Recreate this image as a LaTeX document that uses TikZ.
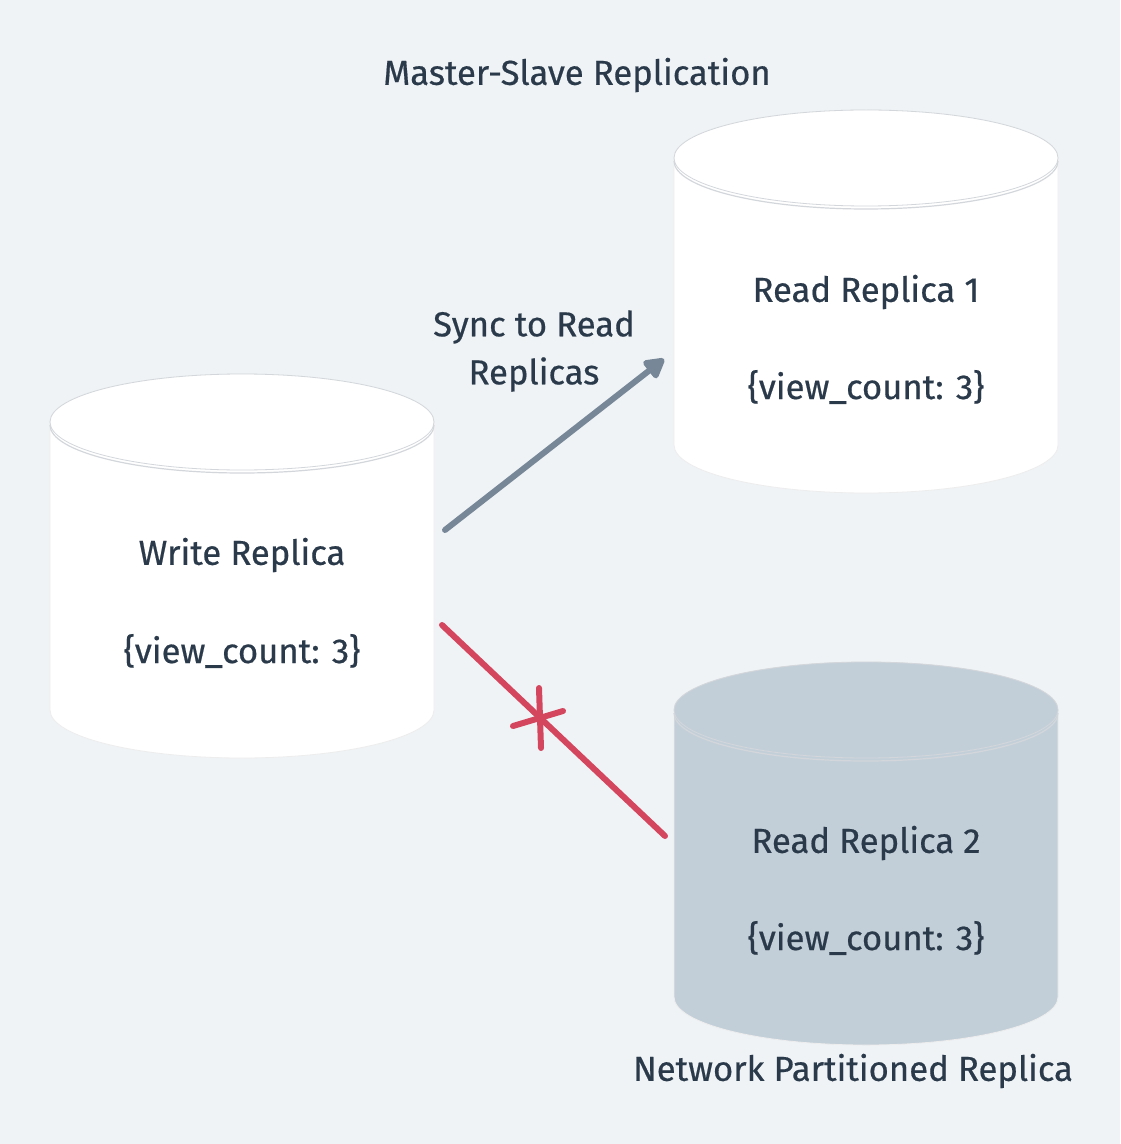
\documentclass[tikz,border=0pt]{standalone}
\usepackage{fontspec}
\setmainfont{Fira Sans}[FakeBold=0.5]
\usetikzlibrary{arrows.meta}
\definecolor{bgcol}{HTML}{EFF3F6}
\definecolor{inkcol}{HTML}{2B3A4A}
\definecolor{synccol}{HTML}{778797}
\definecolor{cutcol}{HTML}{D4465E}
\definecolor{offcol}{HTML}{C3CFD8}
\definecolor{rimcol}{HTML}{D3D7DB}
\tikzset{
  lbl/.style={text=inkcol, font=\fontsize{26}{36}\selectfont, inner sep=0pt},
  cylbody/.style={draw=black!7, line width=0.6pt},
  cyltop/.style={draw=rimcol, line width=0.6pt},
  cylrim/.style={draw=rimcol, line width=0.9pt},
}
% #1 centre x, #2 top centre y, #3 bottom centre y, #4 fill
\newcommand{\replicadb}[4]{%
  \draw[cylbody, fill=#4] (#1-192,#2) -- (#1-192,#3)
    arc[start angle=180, end angle=0, x radius=192, y radius=48]
    -- (#1+192,#2)
    arc[start angle=0, end angle=-180, x radius=192, y radius=48] -- cycle;
  \draw[cyltop, fill=#4] (#1,#2) ellipse[x radius=192, y radius=48];
  \draw[cylrim] (#1-192,#2+3)
    arc[start angle=180, end angle=0, x radius=192, y radius=48];
}
\begin{document}
\begin{tikzpicture}[x=0.75pt, y=-0.75pt]
  \useasboundingbox (0,0) rectangle (1120,1144);
  \fill[bgcol] (0,0) rectangle (1120,1144);

  \replicadb{242}{422}{710}{white}
  \replicadb{866}{158}{445}{white}
  \replicadb{866}{710}{997}{offcol}

  \node[lbl] (title) at (577,75) {Master-Slave Replication};
  \node[lbl, align=center] (synclbl) at (534,351) {Sync to Read\\Replicas};
  \node[lbl] (writer) at (242,555) {Write Replica};
  \node[lbl] (writerval) at (242,651) {\{view\_count: 3\}};
  \node[lbl] (reader1) at (866,292) {Read Replica 1};
  \node[lbl] (reader1val) at (866,387) {\{view\_count: 3\}};
  \node[lbl] (reader2) at (866,843) {Read Replica 2};
  \node[lbl] (reader2val) at (866,938) {\{view\_count: 3\}};
  \node[lbl] (partlbl) at (853,1071) {Network Partitioned Replica};

  \coordinate (syncfrom) at (445,530);
  \coordinate (syncto) at (664,359);
  \coordinate (cutfrom) at (442,625);
  \coordinate (cutto) at (665,836);
  \coordinate (cutmark) at (540,718);

  \draw[synccol, line width=4.5pt, line cap=round,
    -{Triangle[length=17pt, width=18pt, round]}] (syncfrom) -- (syncto);
  \draw[cutcol, line width=4.5pt, line cap=round] (cutfrom) -- (cutto);
  \draw[cutcol, line width=4.5pt, line cap=round]
    ([shift={(-1,-30)}]cutmark) -- ([shift={(1,30)}]cutmark)
    ([shift={(-27,8)}]cutmark) -- ([shift={(23,-7)}]cutmark);
\end{tikzpicture}
\end{document}
